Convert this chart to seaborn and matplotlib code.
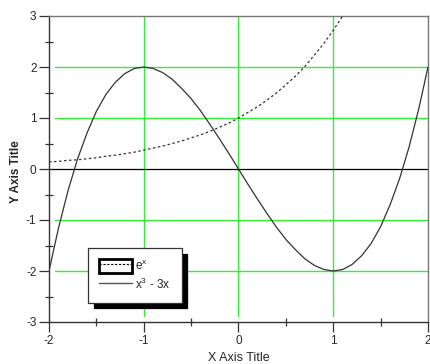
import matplotlib
matplotlib.use("Agg")
import matplotlib.pyplot as plt
import seaborn as sns
import pandas as pd
from matplotlib.patches import Rectangle
from matplotlib.lines import Line2D
from matplotlib.legend_handler import HandlerTuple

# values
x_cubic = [-2.0, -1.9, -1.8, -1.7, -1.6, -1.5, -1.4, -1.3, -1.2, -1.1, -1.0,
           -0.9, -0.8, -0.7, -0.6, -0.5, -0.4, -0.3, -0.2, -0.1, 0.0,
           0.1, 0.2, 0.3, 0.4, 0.5, 0.6, 0.7, 0.8, 0.9, 1.0,
           1.1, 1.2, 1.3, 1.4, 1.5, 1.6, 1.7, 1.8, 1.9, 2.0]
y_cubic = [-2.00, -1.16, -0.43, 0.19, 0.70, 1.13, 1.46, 1.70, 1.87, 1.97, 2.00,
           1.97, 1.89, 1.76, 1.58, 1.38, 1.14, 0.87, 0.59, 0.30, 0.00,
           -0.30, -0.59, -0.87, -1.14, -1.38, -1.58, -1.76, -1.89, -1.97, -2.00,
           -1.97, -1.87, -1.70, -1.46, -1.13, -0.70, -0.19, 0.43, 1.16, 2.00]

x_exp = [-2.0, -1.9, -1.8, -1.7, -1.6, -1.5, -1.4, -1.3, -1.2, -1.1, -1.0,
         -0.9, -0.8, -0.7, -0.6, -0.5, -0.4, -0.3, -0.2, -0.1, 0.0,
         0.1, 0.2, 0.3, 0.4, 0.5, 0.6, 0.7, 0.8, 0.9, 1.0, 1.1]
y_exp = [0.14, 0.15, 0.17, 0.18, 0.20, 0.22, 0.25, 0.27, 0.30, 0.33, 0.37,
         0.41, 0.45, 0.50, 0.55, 0.61, 0.67, 0.74, 0.82, 0.90, 1.00,
         1.11, 1.22, 1.35, 1.49, 1.65, 1.82, 2.01, 2.23, 2.46, 2.72, 3.00]

x_ticks = [-2, -1, 0, 1, 2]
y_ticks = [-3, -2, -1, 0, 1, 2, 3]
grid_x = [-1, 0, 1]
grid_y = [-2, -1, 1, 2]

sns.set_style("white")
plt.rcParams['font.family'] = ['Liberation Sans', 'DejaVu Sans']
plt.rcParams['mathtext.default'] = 'regular'
plt.rcParams['axes.unicode_minus'] = False

fig = plt.figure(figsize=(4.31, 3.64), dpi=100)
ax = fig.add_axes([49 / 431, 42 / 364, 379 / 431, 306 / 364])

green = '#33ee33'
for gx in grid_x:
    ax.axvline(gx, ymin=0.02, ymax=1, color=green, lw=1, zorder=1)
for gy in grid_y:
    ax.axhline(gy, xmin=0.015, xmax=1, color=green, lw=1, zorder=1)
ax.axhline(0, color='black', lw=0.9, zorder=1)

df_exp = pd.DataFrame({'x': x_exp, 'y': y_exp})
df_cub = pd.DataFrame({'x': x_cubic, 'y': y_cubic})
sns.lineplot(data=df_exp, x='x', y='y', ax=ax, color='#333333', lw=0.9,
             linestyle=(0, (2, 2)), sort=False, zorder=3)
sns.lineplot(data=df_cub, x='x', y='y', ax=ax, color='#333333', lw=0.9,
             sort=False, zorder=3)

ax.set_xlim(-2, 2)
ax.set_ylim(-3, 3)
ax.set_xticks(x_ticks)
ax.set_yticks(y_ticks)
ax.set_xticks([-1.5, -0.5, 0.5, 1.5], minor=True)
ax.set_yticks([-2.5, -1.5, -0.5, 0.5, 1.5, 2.5], minor=True)
ax.tick_params(which='major', direction='out', length=7, width=0.9,
               color='#333333', labelsize=8.5, pad=2, left=True, bottom=True)
ax.tick_params(which='minor', direction='inout', length=6, width=0.9,
               color='#333333', left=True, bottom=True)

for s in ['left', 'bottom']:
    ax.spines[s].set_color('#333333')
    ax.spines[s].set_linewidth(1.0)
for s in ['top', 'right']:
    ax.spines[s].set_color('#777777')
    ax.spines[s].set_linewidth(1.0)

ax.set_xlabel('X Axis Title', fontsize=9)
ax.set_ylabel('Y Axis Title', fontsize=8.5, fontweight='bold')
ax.xaxis.set_label_coords(0.5, -0.098)
ax.yaxis.set_label_coords(-0.07, 0.49)

box = Rectangle((0, 0), 1, 1, facecolor='white', edgecolor='black', lw=2)
dash = Line2D([], [], color='black', lw=0.8, linestyle=(0, (2, 1.5)))
solid = Line2D([], [], color='#555555', lw=1.0)
leg = ax.legend([(box, dash), solid], ['e$^x$', 'x$^3$ - 3x'],
                handler_map={tuple: HandlerTuple(ndivide=1)},
                loc='upper left', bbox_to_anchor=(0.103, 0.242),
                fontsize=8.5, frameon=True, fancybox=False,
                shadow={'color': 'black', 'alpha': 1, 'ox': 4, 'oy': -4},
                borderpad=0.9, handlelength=2.8, handleheight=1.5,
                handletextpad=0.3, labelspacing=0.3, borderaxespad=0)
leg.get_frame().set_edgecolor('#333333')
leg.get_frame().set_linewidth(0.9)
leg.set_zorder(5)

fig.savefig('out.png', dpi=100)
